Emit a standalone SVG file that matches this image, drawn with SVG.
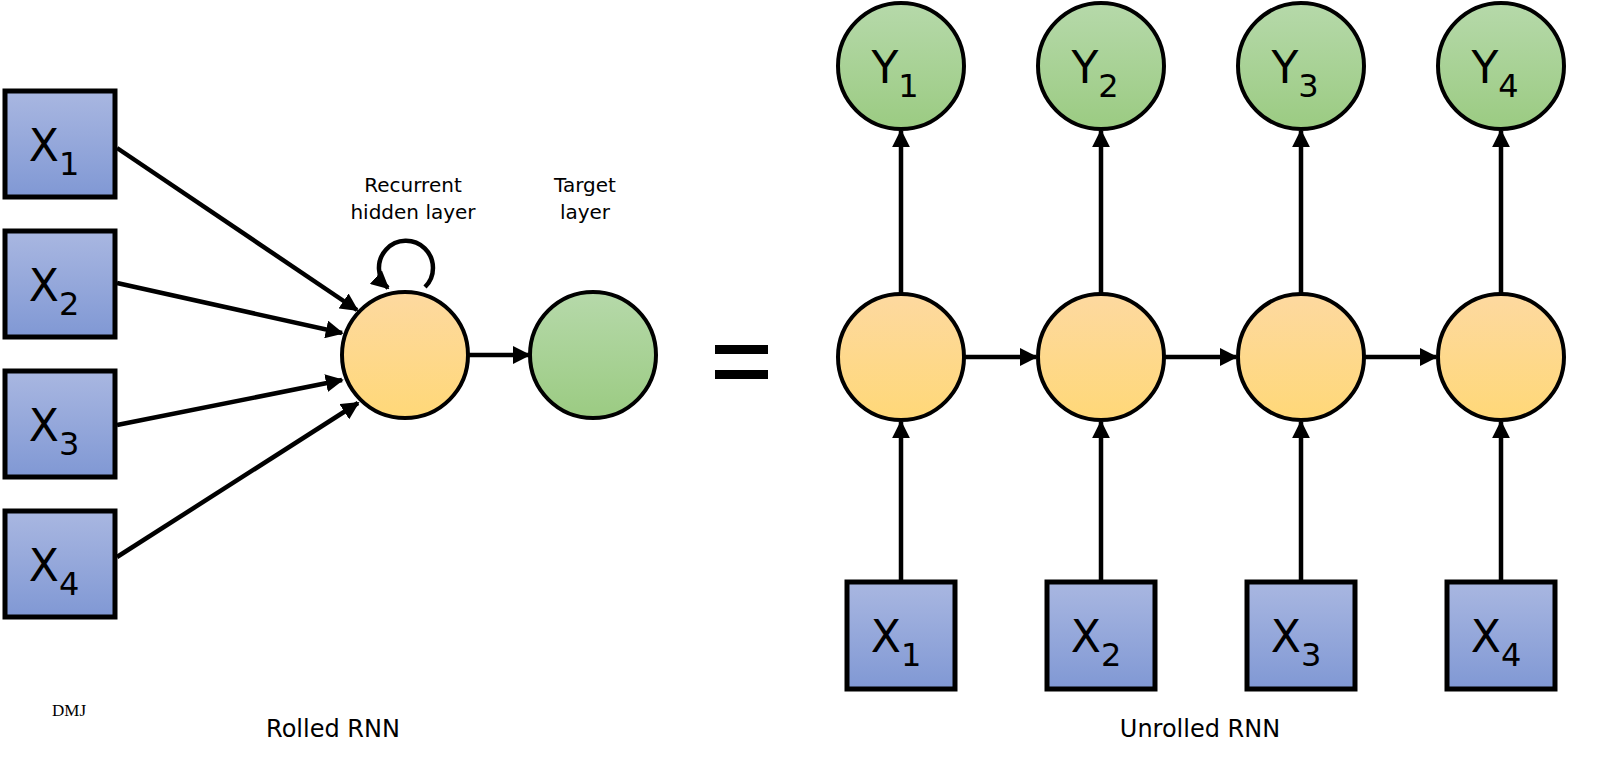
<svg xmlns="http://www.w3.org/2000/svg" width="1600" height="781" viewBox="0 0 1600 781">
<defs>
<linearGradient id="gb" x1="0" y1="0" x2="0" y2="1"><stop offset="0" stop-color="#a9b7e1"/><stop offset="1" stop-color="#8098d4"/></linearGradient>
<linearGradient id="gy" x1="0" y1="0" x2="0" y2="1"><stop offset="0" stop-color="#fdd9a0"/><stop offset="1" stop-color="#ffd878"/></linearGradient>
<linearGradient id="gg" x1="0" y1="0" x2="0" y2="1"><stop offset="0" stop-color="#b6d9aa"/><stop offset="1" stop-color="#9bcb82"/></linearGradient>
<marker id="ah" viewBox="0 0 10 10" refX="9" refY="5" markerWidth="4" markerHeight="4" orient="auto"><path d="M0,0L10,5L0,10z" fill="#000"/></marker>
<style>
.b{fill:url(#gb);stroke:#000;stroke-width:5}
.h{fill:url(#gy);stroke:#000;stroke-width:4}
.o{fill:url(#gg);stroke:#000;stroke-width:4}
.c{stroke:#000;stroke-width:4.5;fill:none;marker-end:url(#ah)}
.t{font-family:"DejaVu Sans",sans-serif;font-size:44px;fill:#000;text-anchor:middle}
.s{font-size:32px}
.l{font-family:"DejaVu Sans",sans-serif;font-size:20px;fill:#000;text-anchor:middle}
.L{font-family:"DejaVu Sans",sans-serif;font-size:24px;fill:#000;text-anchor:middle}
</style>
</defs>
<g id="connectors">
<line class="c" x1="117" y1="148" x2="357" y2="310"/>
<line class="c" x1="117" y1="283" x2="342" y2="333"/>
<line class="c" x1="117" y1="425" x2="342" y2="380"/>
<line class="c" x1="117" y1="557" x2="358" y2="403"/>
<line class="c" x1="468" y1="355" x2="529" y2="355"/>
<path class="c" d="M425,287 A27,27 0 1 0 388,288"/>
<line class="c" x1="964" y1="357" x2="1036" y2="357"/>
<line class="c" x1="1164" y1="357" x2="1236" y2="357"/>
<line class="c" x1="1364" y1="357" x2="1436" y2="357"/>
<line class="c" x1="901" y1="580" x2="901" y2="422"/>
<line class="c" x1="1101" y1="580" x2="1101" y2="422"/>
<line class="c" x1="1301" y1="580" x2="1301" y2="422"/>
<line class="c" x1="1501" y1="580" x2="1501" y2="422"/>
<line class="c" x1="901" y1="293" x2="901" y2="131"/>
<line class="c" x1="1101" y1="293" x2="1101" y2="131"/>
<line class="c" x1="1301" y1="293" x2="1301" y2="131"/>
<line class="c" x1="1501" y1="293" x2="1501" y2="131"/>
</g>
<g id="rx1"><rect class="b" x="5" y="91" width="110" height="106"/><text class="t" x="54" y="161">X<tspan class="s" dy="14">1</tspan></text></g>
<g id="rx2"><rect class="b" x="5" y="231" width="110" height="106"/><text class="t" x="54" y="301">X<tspan class="s" dy="14">2</tspan></text></g>
<g id="rx3"><rect class="b" x="5" y="371" width="110" height="106"/><text class="t" x="54" y="441">X<tspan class="s" dy="14">3</tspan></text></g>
<g id="rx4"><rect class="b" x="5" y="511" width="110" height="106"/><text class="t" x="54" y="581">X<tspan class="s" dy="14">4</tspan></text></g>
<g id="rh"><circle class="h" cx="405" cy="355" r="63"/></g>
<g id="rt"><circle class="o" cx="593" cy="355" r="63"/></g>
<g id="lbl1"><text class="l" x="413" y="192">Recurrent</text><text class="l" x="413" y="219">hidden layer</text></g>
<g id="lbl2"><text class="l" x="585" y="192">Target</text><text class="l" x="585" y="219">layer</text></g>
<g id="eq"><rect x="715" y="345" width="53" height="9" fill="#000"/><rect x="715" y="370" width="53" height="9" fill="#000"/></g>
<g id="h1"><circle class="h" cx="901" cy="357" r="63"/></g>
<g id="h2"><circle class="h" cx="1101" cy="357" r="63"/></g>
<g id="h3"><circle class="h" cx="1301" cy="357" r="63"/></g>
<g id="h4"><circle class="h" cx="1501" cy="357" r="63"/></g>
<g id="y1"><circle class="o" cx="901" cy="66" r="63"/><text class="t" x="895" y="83">Y<tspan class="s" dy="14">1</tspan></text></g>
<g id="y2"><circle class="o" cx="1101" cy="66" r="63"/><text class="t" x="1095" y="83">Y<tspan class="s" dy="14">2</tspan></text></g>
<g id="y3"><circle class="o" cx="1301" cy="66" r="63"/><text class="t" x="1295" y="83">Y<tspan class="s" dy="14">3</tspan></text></g>
<g id="y4"><circle class="o" cx="1501" cy="66" r="63"/><text class="t" x="1495" y="83">Y<tspan class="s" dy="14">4</tspan></text></g>
<g id="ux1"><rect class="b" x="847" y="582" width="108" height="107"/><text class="t" x="896" y="652">X<tspan class="s" dy="14">1</tspan></text></g>
<g id="ux2"><rect class="b" x="1047" y="582" width="108" height="107"/><text class="t" x="1096" y="652">X<tspan class="s" dy="14">2</tspan></text></g>
<g id="ux3"><rect class="b" x="1247" y="582" width="108" height="107"/><text class="t" x="1296" y="652">X<tspan class="s" dy="14">3</tspan></text></g>
<g id="ux4"><rect class="b" x="1447" y="582" width="108" height="107"/><text class="t" x="1496" y="652">X<tspan class="s" dy="14">4</tspan></text></g>
<text class="L" x="333" y="737">Rolled RNN</text>
<text class="L" x="1200" y="737">Unrolled RNN</text>
<text x="69" y="716" font-family="Liberation Serif,serif" font-size="17" text-anchor="middle">DMJ</text>
</svg>
